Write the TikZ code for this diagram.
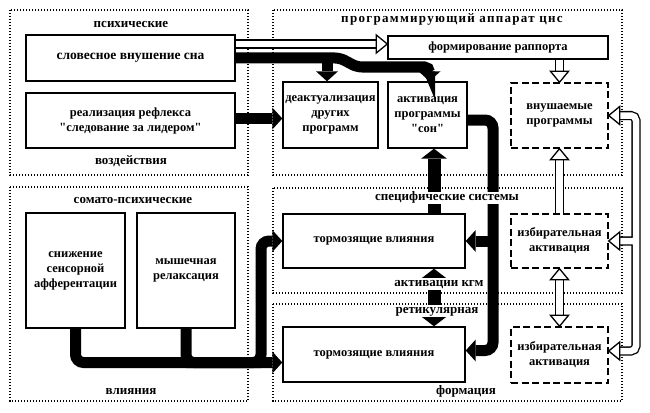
\documentclass[tikz,border=0pt]{standalone}
\usepackage{fontspec}
\setmainfont{Liberation Serif}
\usetikzlibrary{arrows.meta,calc}
\newcommand{\hTipL}[1]{\draw[htip] (#1) -- ++(11,-9) -- ++(0,18) -- cycle;}
\newcommand{\hTipR}[1]{\draw[htip] (#1) -- ++(-11,-9) -- ++(0,18) -- cycle;}
\newcommand{\hTipD}[1]{\draw[htip] (#1) -- ++(-9,-11) -- ++(18,0) -- cycle;}
\newcommand{\hTipU}[1]{\draw[htip] (#1) -- ++(-9,11) -- ++(18,0) -- cycle;}
\begin{document}
\begin{tikzpicture}[x=1pt,y=-1pt,
  every node/.style={font=\fontsize{12.5}{15}\selectfont\bfseries},
  box/.style={draw, line width=1.4pt, fill=white, inner sep=0pt, align=center},
  dbox/.style={box, dash pattern=on 7pt off 3.5pt},
  panel/.style={line width=1.5pt, dash pattern=on 1.4pt off 1.6pt},
  lbl/.style={inner sep=1pt, text height=8pt, text depth=2.5pt, font=\fontsize{13}{15}\selectfont\bfseries},
  wlbl/.style={lbl, fill=white},
  tarr/.style={line width=11pt, -{Triangle[width=22pt,length=10pt,line width=0pt]}},
  tarrb/.style={line width=13pt, {Triangle[width=26pt,length=10pt,line width=0pt]}-{Triangle[width=26pt,length=10pt,line width=0pt]}},
  tline/.style={line width=11pt},
  hshaft/.style={line width=1.3pt, double=white, double distance=6.5pt},
  htip/.style={line width=1.3pt, fill=white, line join=miter}
]
\useasboundingbox (0,0) rectangle (650,412);
% panels
\draw[panel] (10,10) rectangle (248,175);
\draw[panel] (10,187) rectangle (248,401);
\draw[panel] (273,10) rectangle (622,175);
\draw[panel] (273,188) rectangle (622,293);
\draw[panel] (273,304) rectangle (622,401);
% boxes
\node[box, minimum width=209pt, minimum height=46pt, font=\fontsize{13.5}{15}\selectfont\bfseries] (b1) at (130.5,58) {словесное внушение сна};
\node[box, minimum width=209pt, minimum height=55pt] (b2) at (130.5,120.5) {реализация рефлекса\\\textquotedbl следование за лидером\textquotedbl};
\node[box, minimum width=95pt, minimum height=66pt] (b3) at (330.5,115) {деактуализация\\других\\программ};
\node[box, minimum width=79pt, minimum height=66pt] (b4) at (427.5,115) {активация\\программы\\\textquotedbl сон\textquotedbl};
\node[box, minimum width=220pt, minimum height=23pt] (b5) at (498,47.5) {формирование раппорта};
\node[dbox, minimum width=97pt, minimum height=65pt] (b6) at (559.5,115.5) {внушаемые\\программы};
\node[box, minimum width=99pt, minimum height=115pt] (b7) at (75.5,270.5) {снижение\\сенсорной\\афферентации};
\node[box, minimum width=98pt, minimum height=115pt] (b8) at (186,270.5) {мышечная\\релаксация};
\node[box, minimum width=182pt, minimum height=54pt] (b9) at (374,241) {тормозящие влияния};
\node[box, minimum width=182pt, minimum height=55pt] (b10) at (374,354.5) {тормозящие влияния};
\node[dbox, minimum width=97pt, minimum height=54pt] (b11) at (559.5,241) {избирательная\\активация};
\node[dbox, minimum width=97pt, minimum height=56pt] (b12) at (559.5,355) {избирательная\\активация};
% helper coordinates
\coordinate (vx) at (434,0);
\coordinate (rx) at (493,0);
\coordinate (lx) at (261,0);
\coordinate (tx) at (636,0);
\coordinate (bx) at (327,0);
\coordinate (b10r) at ([yshift=4pt]b10.east);
\coordinate (b10l) at ([yshift=-8pt]b10.west);
% thick black arrows
\draw[tarr, rounded corners=5pt] (b1.east) -- (340,58) -- (357,67) -| ([xshift=2pt]b4.north);
\draw[tarr] (b1.east -| bx) -- (b3.north -| bx);
\draw[tarr] ([yshift=2pt]b2.east) -- ([yshift=2pt]b2.east -| b3.west);
\draw[tarr, rounded corners=8pt] ([yshift=-5pt]b4.east) -| (rx |- b10r) -- (b10r);
\draw[tarr] (rx |- b9.east) -- (b9.east);
\draw[tarr, line width=13pt, -{Triangle[width=26pt,length=10pt,line width=0pt]}] (b9.north -| vx) -- (b4.south -| vx);
\draw[tarrb] (b9.south -| vx) -- (b10.north -| vx);
\draw[tarr, rounded corners=8pt] (b7.south) |- (b10l);
\draw[tline, rounded corners=8pt] (b8.south) |- (lx |- b10l);
\draw[tarr, rounded corners=8pt] (b8.south |- b10l) -| (lx |- b9.west) -- (b9.west);
% hollow arrows
\coordinate (h1s) at ([yshift=14pt]b1.east);
\draw[hshaft, shorten >=10pt] (h1s) -- (h1s -| b5.west);
\hTipR{h1s -| b5.west}
\draw[hshaft, shorten >=10pt] (b6.north |- b5.south) -- (b6.north);
\hTipD{b6.north}
\draw[hshaft, shorten >=10pt] (b11.north) -- (b6.south);
\hTipU{b6.south}
\draw[hshaft, shorten >=10pt, shorten <=10pt] (b11.south) -- (b12.north);
\hTipU{b11.south}
\hTipD{b12.north}
\coordinate (t1) at (b6.east);
\coordinate (t2) at (b11.east);
\coordinate (t3) at ([yshift=4pt]b12.east);
\draw[hshaft, rounded corners=5pt] ([xshift=10pt]t1) -- (tx |- t1) -- (tx |- t3) -- ([xshift=10pt]t3) ([xshift=10pt]t2) -- (tx |- t2);
\hTipL{t1}
\hTipL{t2}
\hTipL{t3}
% labels
\node[lbl] (l1) at (131,25) {психические};
\node[lbl] (l2) at (131,162) {воздействия};
\node[lbl] (l3) at (133,201) {сомато-психические};
\node[lbl] (l4) at (131,392) {влияния};
\node[lbl, font=\fontsize{13}{15}\selectfont\bfseries\addfontfeature{LetterSpace=10}] (l5) at (452,20) {программирующий аппарат цнс};
\node[wlbl] (l6) at (447,198) {специфические системы};
\node[wlbl] (l7) at (439,284) {активации кгм};
\node[wlbl] (l8) at (437,311) {ретикулярная};
\node[lbl] (l9) at (466,392) {формация};
\end{tikzpicture}
\end{document}
